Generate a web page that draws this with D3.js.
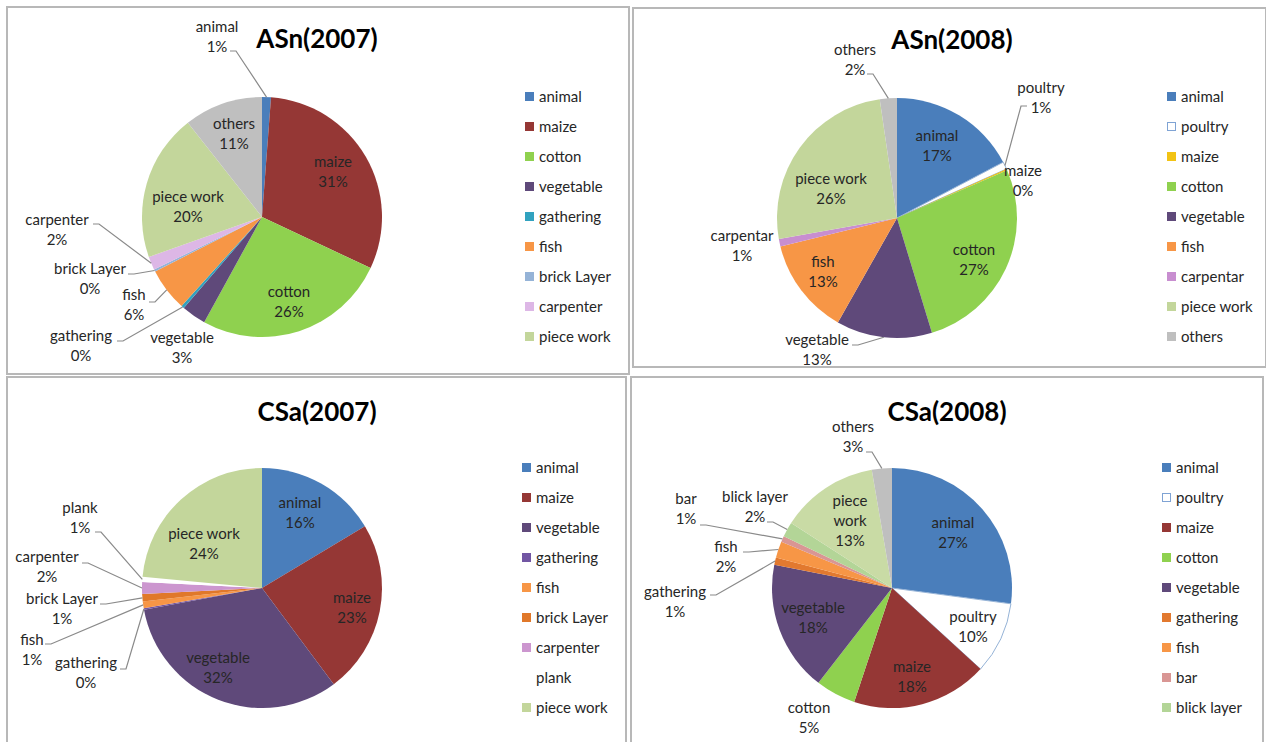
<!DOCTYPE html>
<html><head><meta charset="utf-8">
<script src="https://cdn.jsdelivr.net/npm/d3@7"></script>
<style>
body{margin:0;background:#fff}
svg{display:block}
text{font-family:Lato,'Open Sans',sans-serif}
</style>
</head><body><svg id="c" width="1266" height="742"></svg>
<script>
// ---------- DATA ----------
const asn07Title = "ASn(2007)";
const asn07Categories = ["animal","maize","cotton","vegetable","gathering","fish","brick Layer","carpenter","piece work","others"];
const asn07Values = [1.2,30.8,26.0,3.3,0.4,5.8,0.3,1.8,19.8,10.6];

const asn08Title = "ASn(2008)";
const asn08Categories = ["animal","poultry","maize","cotton","vegetable","fish","carpentar","piece work","others"];
const asn08Values = [17.3,1.0,0.2,26.8,12.9,13.0,1.0,25.5,2.3];

const csa07Title = "CSa(2007)";
const csa07Categories = ["animal","maize","vegetable","gathering","fish","brick Layer","carpenter","plank","piece work"];
const csa07Values = [16.4,23.4,32.3,0.2,0.9,1.0,1.6,0.7,23.5];

const csa08Title = "CSa(2008)";
const csa08Categories = ["animal","poultry","maize","cotton","vegetable","gathering","fish","bar","blick layer","piece work","others"];
const csa08Values = [27.1,9.7,18.3,5.4,17.6,1.0,2.2,0.8,2.0,13.2,2.7];

// ---------- STYLES ----------
const asn07Colors = ["#4A7EBB","#953735","#8FD14F","#5F497A","#31A2BF","#F79646","#95B3D7","#DDB7E6","#C3D69B","#BFBFBF"];
const asn08Colors = ["#4A7EBB","#FFFFFF","#F2C314","#8FD14F","#5F497A","#F79646","#C88ED0","#C3D69B","#BFBFBF"];
const csa07Colors = ["#4A7EBB","#953735","#5F497A","#7256A3","#F79646","#E0782A","#CC96CF","#FFFFFF","#C3D69B"];
const csa08Colors = ["#4A7EBB","#FFFFFF","#953735","#8FD14F","#5F497A","#E2792F","#F79646","#D99694","#B3D597","#C9DBA5","#BFBFBF"];

// ---------- LAYOUT (label block centres / leader starts, relative to pie centre) ----------
const asn07LabelPos = [[-45,-180],[71,-45],[27,85],[-80,131],[-181,129],[-128,88],[-172,62],[-205,13],[-74,-10],[-28,-83]];
const asn07Leader = [[-32,-166],null,null,null,[-145,124],[-113,85],[-134,57],[-169,7],null,null];
const asn08LabelPos = [[40,-72],[144,-120],[126,-37],[77,42],[-80,132],[-74,54],[-155,28],[-66,-29],[-42,-158]];
const asn08Leader = [null,[130,-112],null,null,[-45,127],null,null,null,[-30,-144]];
const csa07LabelPos = [[38,-75],[90,20],[-44,80],[-176,85],[-230,62],[-200,21],[-215,-21],[-182,-70],[-58,-44]];
const csa07Leader = [null,null,null,[-142,81],[-217,56],[-162,16],[-180,-25],[-167,-56],null];
const csa08LabelPos = [[61,-55],[81,39],[20,89],[-83,130],[-79,30],[-217,14],[-166,-31],[-206,-79],[-137,-81],[-42,-67],[-39,-151]];
const csa08Leader = [null,null,null,null,null,[-182,7],[-149,-36],[-192,-63],[-125,-66],null,[-26,-136]];
const csa08Wrap = ["piece work"];

const panels = [
  {title:asn07Title, cats:asn07Categories, vals:asn07Values, colors:asn07Colors, pos:asn07LabelPos, lead:asn07Leader, wrap:[],
   box:[7,7,629,374], c:[262,217], t:[317,39], lg:[525,97]},
  {title:asn08Title, cats:asn08Categories, vals:asn08Values, colors:asn08Colors, pos:asn08LabelPos, lead:asn08Leader, wrap:[],
   box:[633,8,1266,367], c:[897,218], t:[952,40], lg:[1167,97]},
  {title:csa07Title, cats:csa07Categories, vals:csa07Values, colors:csa07Colors, pos:csa07LabelPos, lead:csa07Leader, wrap:[],
   box:[7,377,626,745], c:[262,588], t:[317,412], lg:[522,468]},
  {title:csa08Title, cats:csa08Categories, vals:csa08Values, colors:csa08Colors, pos:csa08LabelPos, lead:csa08Leader, wrap:csa08Wrap,
   box:[631,377,1263,745], c:[892,588], t:[947,412], lg:[1162,468]}
];

const R = 120;
const svg = d3.select("#c");
svg.append("rect").attr("width",1266).attr("height",742).attr("fill","#fff");

panels.forEach(p => {
  const [x0,y0,x1,y1] = p.box;
  svg.append("rect").attr("x",x0).attr("y",y0).attr("width",x1-x0).attr("height",y1-y0)
    .attr("fill","#fff").attr("stroke","#b8b8b8").attr("stroke-width",2);

  const g = svg.append("g").attr("transform",`translate(${p.c[0]},${p.c[1]})`);
  const data = p.cats.map((name,i)=>({name, value:p.vals[i], color:p.colors[i], i}));
  const total = d3.sum(p.vals);
  const pie = d3.pie().sort(null).value(d=>d.value)(data);
  const arc = d3.arc().innerRadius(0).outerRadius(R);

  g.selectAll("path.slice").data(pie).join("path")
    .attr("class","slice")
    .attr("d",arc)
    .attr("fill",d=>d.data.color)
    .attr("stroke",d=>d.data.name==="poultry" ? "#95B3D7" : "none")
    .attr("stroke-width",1);

  // leader lines
  pie.forEach((d,i)=>{
    const ls = p.lead[i];
    if(!ls) return;
    const mid = (d.startAngle+d.endAngle)/2;
    const ax = Math.sin(mid)*R, ay = -Math.cos(mid)*R;
    const sgn = ax > ls[0] ? 1 : -1;
    const pts = [[ls[0],ls[1]],[ls[0]+sgn*6,ls[1]],[ax,ay]];
    g.append("path").attr("d",d3.line()(pts)).attr("fill","none")
      .attr("stroke","#8a8a8a").attr("stroke-width",1.2);
  });

  // data labels
  pie.forEach((d,i)=>{
    const pos = p.pos[i];
    if(!pos) return;
    const pct = Math.round(d.data.value/total*100)+"%";
    const lines = p.wrap.includes(d.data.name) ? d.data.name.split(" ").concat([pct]) : [d.data.name, pct];
    const n = lines.length, lh = 20;
    const t = g.append("text").attr("text-anchor","middle").attr("fill","#262626").style("font-size","15px");
    lines.forEach((ln,k)=>{
      t.append("tspan").attr("x",pos[0]).attr("y",pos[1] + (k-(n-1)/2)*lh).attr("dy","0.35em").text(ln);
    });
  });

  // title
  svg.append("text").attr("x",p.t[0]).attr("y",p.t[1]).attr("dy","0.35em").attr("text-anchor","middle")
    .attr("fill","#000").style("font-size","26px").style("font-weight","bold").text(p.title);

  // legend (first 9 entries)
  const lgData = data.slice(0,9);
  const lg = svg.append("g").attr("transform",`translate(${p.lg[0]},${p.lg[1]})`);
  lgData.forEach((d,k)=>{
    const y = k*30;
    if(d.name==="poultry"){
      lg.append("rect").attr("x",0.5).attr("y",y-4.5).attr("width",8).attr("height",8).attr("fill","#fff").attr("stroke","#7FA3D4").attr("stroke-width",1);
    } else if(d.color.toUpperCase()!=="#FFFFFF"){
      lg.append("rect").attr("x",0).attr("y",y-5).attr("width",9).attr("height",9).attr("fill",d.color);
    }
    lg.append("text").attr("x",14).attr("y",y).attr("dy","0.35em").attr("fill","#262626").style("font-size","15px").text(d.name);
  });
});
</script></body></html>
